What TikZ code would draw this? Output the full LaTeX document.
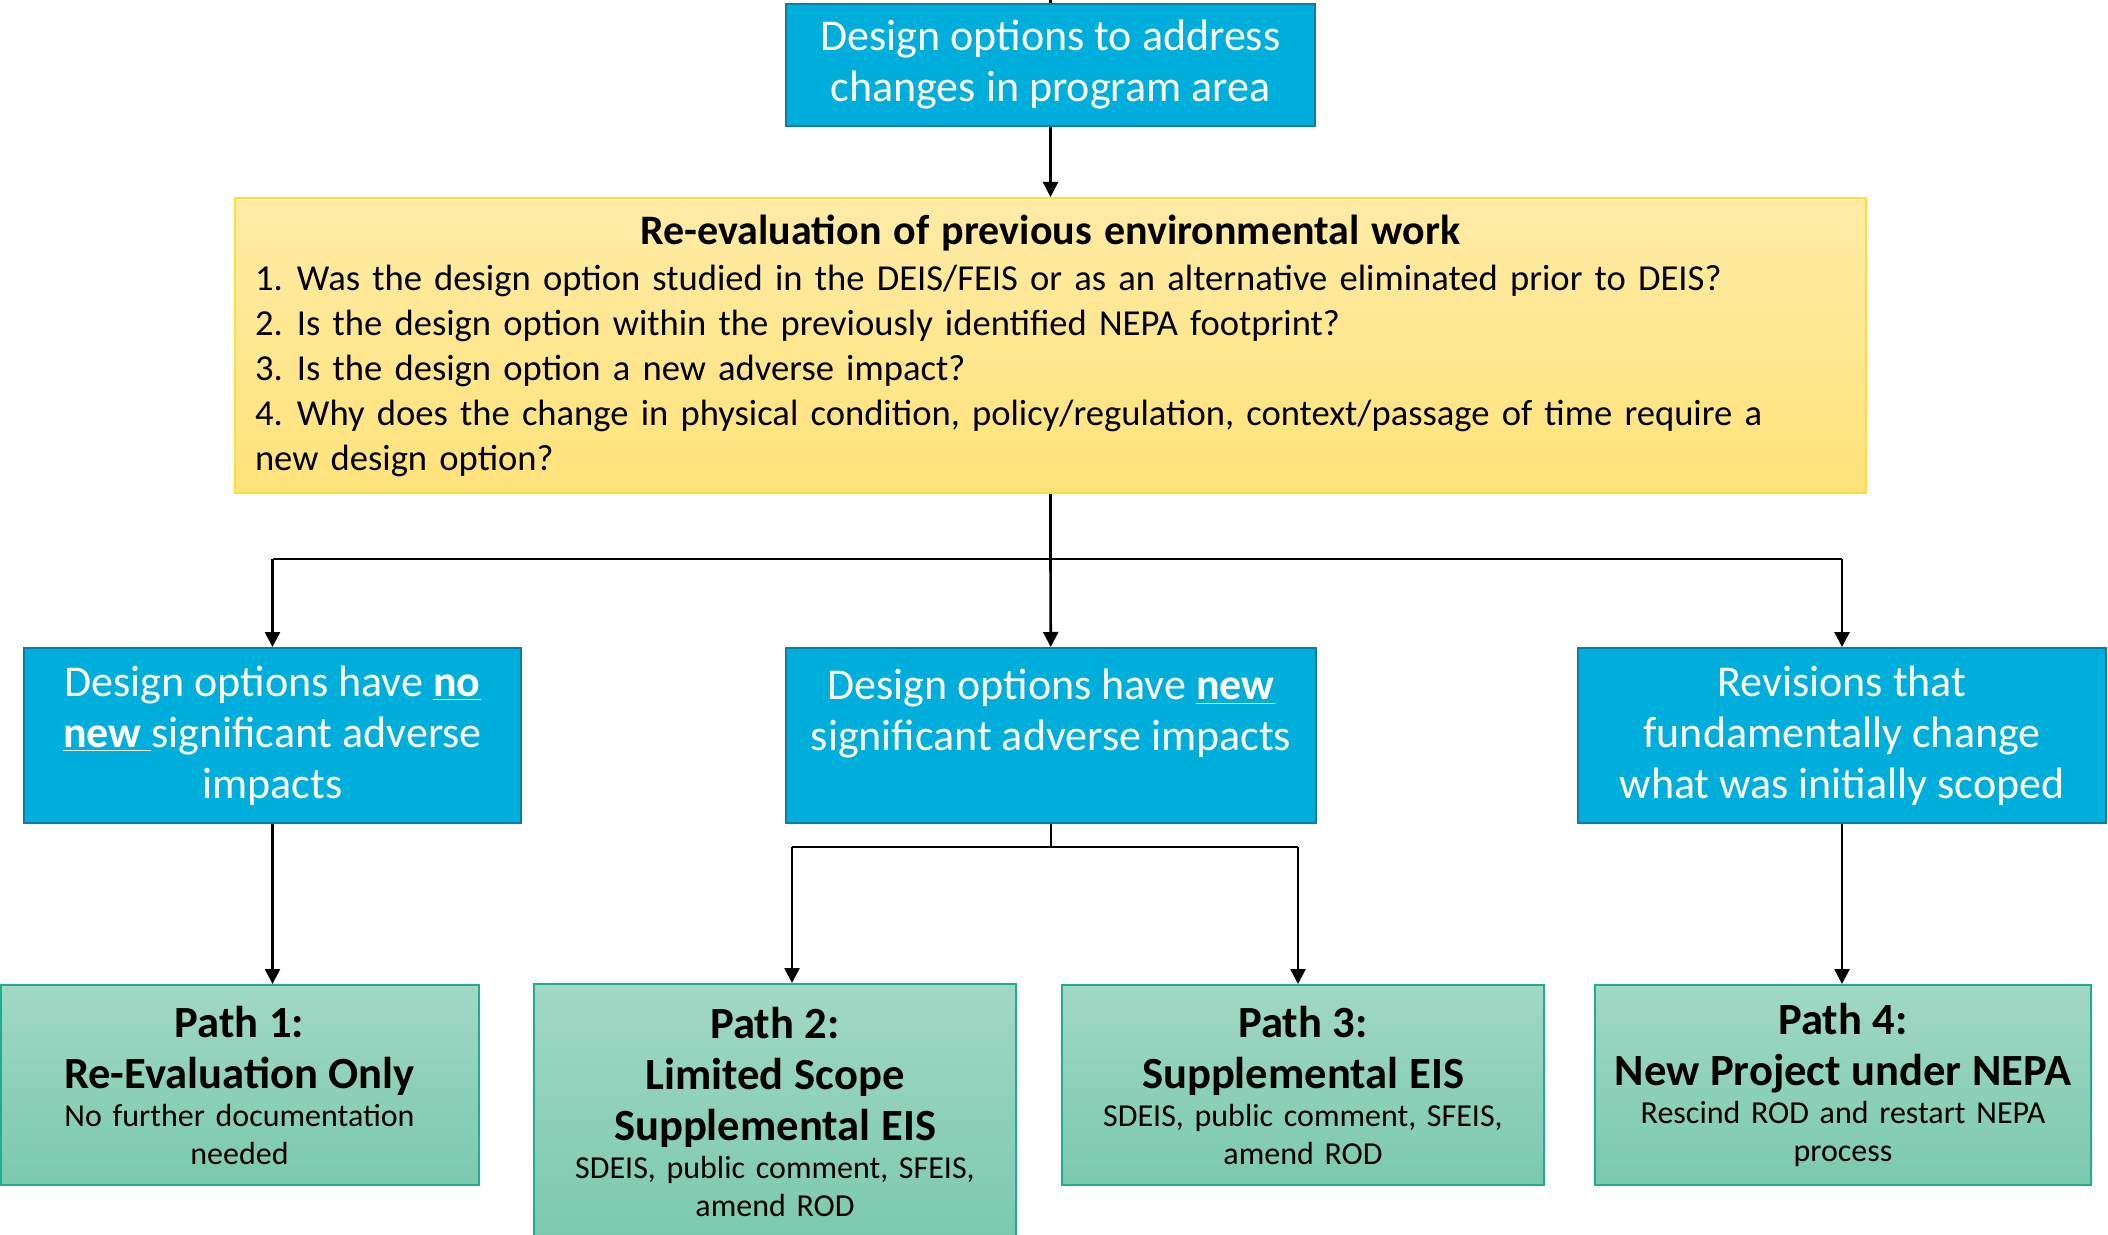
\documentclass[tikz,border=0pt]{standalone}
\usepackage{fontspec}
\setmainfont{Carlito}
\usetikzlibrary{arrows.meta,positioning}

\definecolor{optblue}{HTML}{00AEDB}
\definecolor{optline}{HTML}{0B7FA3}
\definecolor{evaltop}{HTML}{FFEBA6}
\definecolor{evalbot}{HTML}{FFE37A}
\definecolor{evalline}{HTML}{FFDE3B}
\definecolor{pathtop}{HTML}{A1D8C6}
\definecolor{pathbot}{HTML}{7BC9AF}
\definecolor{pathline}{HTML}{1EAE8C}

\begin{document}
\begin{tikzpicture}[->,>={Triangle[length=7.5pt,width=7.5pt]},x=0.5pt,y=-0.5pt,
                    line width=1.3pt,
  optbox/.style={draw=optline,line width=1pt,fill=optblue,text=white,align=center,
                 inner sep=0pt,minimum height=87.5pt,
                 font=\fontsize{22}{25.5}\selectfont},
  evalbox/.style={draw=evalline,line width=1pt,top color=evaltop,bottom color=evalbot,
                  align=left,inner xsep=10pt,inner ysep=0pt,
                  text width=795.5pt,minimum height=147.5pt,
                  font=\fontsize{18.3}{22.4}\selectfont},
  pathbox/.style={draw=pathline,line width=1pt,top color=pathtop,bottom color=pathbot,
                  align=center,inner sep=0pt,minimum height=100pt,
                  text width=230pt,font=\fontsize{16}{19}\selectfont}]

  \useasboundingbox (0,0) rectangle (2108,1235);

  % top of the chart
  \node[optbox,minimum width=264.5pt,minimum height=61pt] (design) at (1050.5,65)
       {Design options to address\\changes in program area};
  \node[evalbox] (reeval) at (1050.5,345.5)
       {\makebox[\linewidth]{\bfseries\fontsize{21}{24}\selectfont Re-evaluation of previous environmental work}\\[1pt]
        \makebox[21pt][l]{1.}Was the design option studied in the DEIS/FEIS or as an alternative eliminated prior to DEIS?\\
        \makebox[21pt][l]{2.}Is the design option within the previously identified NEPA footprint?\\
        \makebox[21pt][l]{3.}Is the design option a new adverse impact?\\
        \makebox[21pt][l]{4.}Why does the change in physical condition, policy/regulation, context/passage of time require a\\
        new design option?};

  % kind of change
  \node[optbox,minimum width=248.5pt] (noimpact) at (272.5,735.5)
       {Design options have \underline{\textbf{no}}\\\underline{\textbf{new }}significant adverse\\impacts};
  \node[optbox,minimum width=265pt] (newimpact) at (1051,735.5)
       {Design options have \underline{\textbf{new}}\\significant adverse impacts\\\mbox{}};
  \node[optbox,minimum width=264pt] (rescope) at (1842,735.5)
       {Revisions that\\fundamentally change\\what was initially scoped};

  % the four paths
  \node[pathbox,minimum width=239pt] (path1) at (239.5,1085)
       {{\bfseries\fontsize{22.3}{25.5}\selectfont Path 1:\\Re-Evaluation Only\par}
        No further documentation\\needed};
  \node[pathbox,minimum width=241pt,minimum height=128pt] (path2) at (775,1112)
       {{\bfseries\fontsize{22.3}{25.5}\selectfont Path 2:\\Limited Scope\\Supplemental EIS\par}
        SDEIS, public comment, SFEIS,\\amend ROD};
  \node[pathbox,minimum width=241pt] (path3) at (1303,1085)
       {{\bfseries\fontsize{22.3}{25.5}\selectfont Path 3:\\Supplemental EIS\par}
        SDEIS, public comment, SFEIS,\\amend ROD};
  \node[pathbox,minimum width=248pt] (path4) at (1843,1085)
       {{\bfseries\fontsize{22.3}{25.5}\selectfont Path 4:\\New Project under NEPA\par}
        Rescind ROD and restart NEPA\\process};

  \coordinate (entry) at (1050.5,0);
  \coordinate (branch) at (1050.5,559);
  \coordinate (forkleft) at (792,847);
  \coordinate (forkright) at (1298,847);

  \draw[-] (entry) -- (design.north);
  \draw (design) -- (reeval);

  \draw[-] (reeval) -- (branch);
  \draw[-] (branch -| noimpact) -- (branch -| rescope);
  \draw (branch -| noimpact) -- (noimpact);
  \draw (branch) -- (newimpact);
  \draw (branch -| rescope) -- (rescope);

  \draw (noimpact) -- (noimpact |- path1.north);
  \draw[-] (newimpact) -- (newimpact |- forkleft);
  \draw[-] (forkleft) -- (forkright);
  \draw (forkleft) -- (forkleft |- path2.north);
  \draw (forkright) -- (forkright |- path3.north);
  \draw (rescope) -- (rescope |- path4.north);

\end{tikzpicture}
\end{document}
